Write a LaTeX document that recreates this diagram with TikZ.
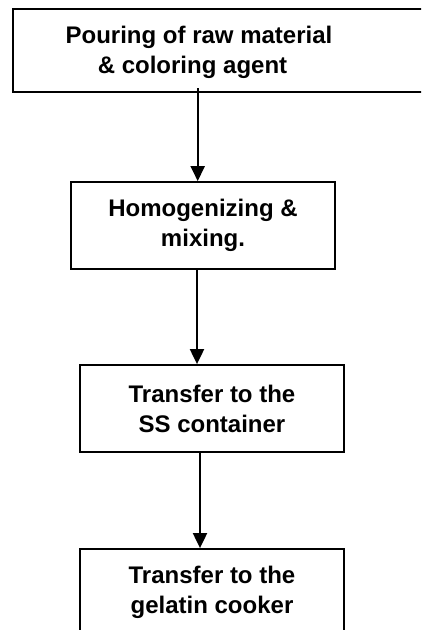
\documentclass[tikz,border=0pt]{standalone}
\usepackage{fontspec}
\setmainfont{Liberation Sans}
\usetikzlibrary{arrows.meta}
\begin{document}
\begin{tikzpicture}[x=1pt,y=-1pt,
  txt/.style={font=\bfseries\fontsize{24}{30}\selectfont,align=center},
  box/.style={txt,draw=black,line width=1.8pt,rectangle,inner sep=0pt,
    minimum width=264pt,minimum height=87pt},
  lbl/.style={txt,inner sep=0pt},
  flow/.style={line width=2pt,-{Triangle[length=15pt,width=14pt]}}]
\useasboundingbox (0,0) rectangle (421,630);
\fill[white] (0,0) rectangle (421,630);
\clip (0,0) rectangle (421,630);
\node[box,minimum width=417pt,minimum height=83pt] (b1) at (221.5,50.5) {};
\node[lbl] (t1) at (199,52) {Pouring of raw material\\ \& coloring agent\hspace*{13pt}};
\node[box] (b2) at (203,225.5) {Homogenizing \&\\mixing.};
\node[box] (b3) at (212,408.5) {Transfer to the\\SS container};
\node[box] (b4) at (212,592.5) {Transfer to the\\gelatin cooker};
\coordinate (c1) at (197.7,88);
\coordinate (c2) at (197,0);
\coordinate (c3) at (200,0);
\draw[flow] (c1) -- (c1 |- b2.north);
\draw[flow] (c2 |- b2.south) -- (c2 |- b3.north);
\draw[flow] (c3 |- b3.south) -- (c3 |- b4.north);
\end{tikzpicture}
\end{document}
